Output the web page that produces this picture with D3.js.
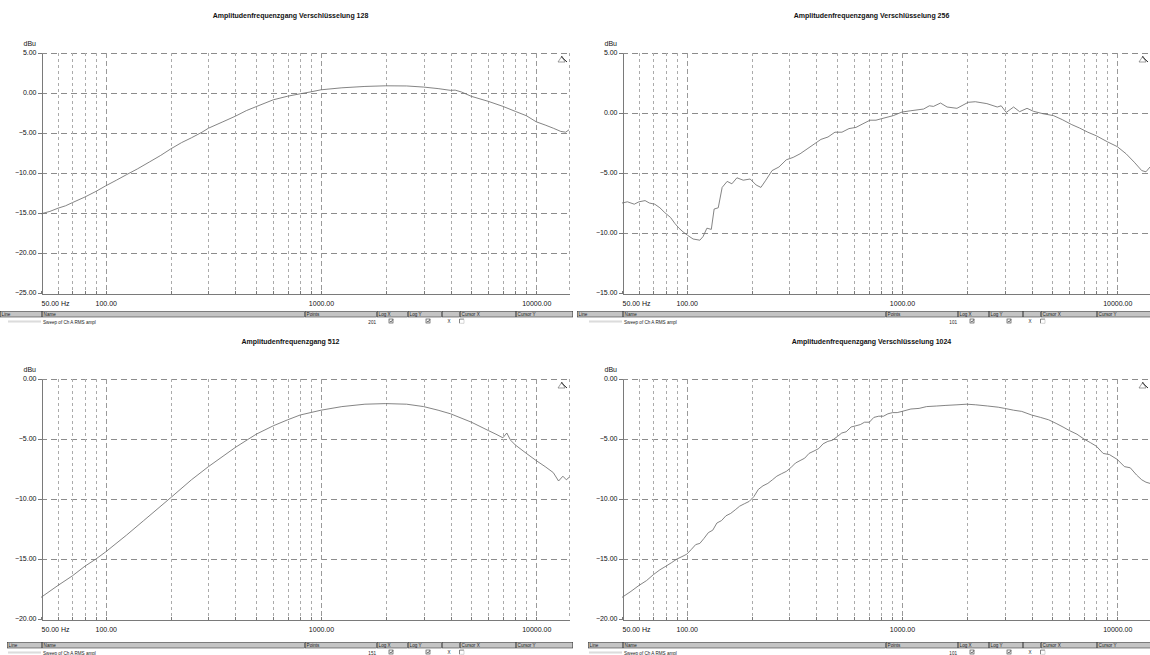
<!DOCTYPE html>
<meta charset="utf-8">
<style>
body { margin: 0; background: #fff; }
svg { display: block; font-family: "Liberation Sans", Arial, sans-serif; }
.grid-h { stroke: #8c8c8c; stroke-width: 1; stroke-dasharray: 6,4; shape-rendering: crispEdges; }
.grid-v { stroke: #ababab; stroke-width: 1; stroke-dasharray: 3,3; shape-rendering: crispEdges; }
.grid-dec { stroke: #9a9a9a; stroke-width: 1; stroke-dasharray: 5,3; shape-rendering: crispEdges; }
.axis path, .axis line { stroke: #7a7a7a; shape-rendering: crispEdges; }
.axis text { font-size: 7px; fill: #111; }
.curve { fill: none; stroke: #6e6e6e; stroke-width: 0.85px; }
.title { font-size: 7px; font-weight: bold; fill: #111; }
.hdr { fill: #c4c4c4; stroke: #3a3a3a; stroke-width: 0.6; }
.lg { font-size: 4.6px; fill: #222; }
</style>
<body>
<script src="https://d3js.org/d3.v7.min.js"></script>
<script>
// frequency [Hz], level [dBu]
var sweep128 = [[50,-15.1],[55,-14.8],[60,-14.4],[65,-14.1],[70,-13.7],[80,-13.0],[90,-12.3],[100,-11.6],
  [112,-10.9],[125,-10.2],[140,-9.5],[160,-8.6],[180,-7.8],[200,-7.0],[225,-6.2],[250,-5.6],[280,-4.9],
  [300,-4.4],[350,-3.6],[400,-2.9],[450,-2.2],[500,-1.7],[600,-0.85],[700,-0.4],[800,-0.1],[900,0.15],
  [1000,0.4],[1250,0.65],[1600,0.82],[2000,0.9],[2500,0.88],[3000,0.74],[3500,0.55],[4000,0.33],
  [4200,0.36],[4500,0.12],[5000,-0.42],[6000,-1.05],[7000,-1.67],[8000,-2.3],[9000,-2.84],[10000,-3.6],
  [11000,-4.0],[12000,-4.4],[13000,-4.8],[13700,-4.9],[14200,-4.6]];

var sweep256 = [[50,-7.5],[53,-7.4],[57,-7.6],[60,-7.4],[64,-7.3],[67,-7.5],[71,-7.6],[75,-7.9],[79,-8.3],
  [84,-8.7],[88,-9.2],[92,-9.6],[96,-9.9],[101,-10.2],[107,-10.5],[115,-10.6],[119,-10.3],[124,-9.6],
  [130,-9.7],[134,-8.0],[140,-7.9],[146,-6.2],[154,-5.7],[162,-5.9],[171,-5.4],[183,-5.6],[197,-5.5],
  [210,-6.0],[221,-6.2],[233,-5.6],[249,-4.8],[268,-4.5],[290,-3.9],[312,-3.7],[336,-3.4],[362,-3.0],
  [390,-2.6],[420,-2.2],[453,-2.0],[488,-1.6],[526,-1.6],[567,-1.3],[611,-1.2],[658,-0.9],[710,-0.6],
  [757,-0.6],[793,-0.5],[911,-0.22],[1000,0.08],[1100,0.19],[1260,0.33],[1340,0.6],[1400,0.55],
  [1510,0.83],[1620,0.5],[1800,0.39],[2030,0.89],[2190,0.94],[2480,0.78],[2770,0.5],[2890,0.6],
  [3050,0.05],[3300,0.5],[3520,0.11],[3810,0.39],[4080,0.14],[4520,-0.06],[5060,-0.22],[5550,-0.55],
  [6150,-0.97],[6680,-1.25],[7300,-1.6],[8000,-1.9],[9000,-2.4],[10000,-2.8],[11000,-3.4],[12000,-4.1],
  [13000,-4.8],[13600,-4.9],[14200,-4.5]];

var sweep512 = [[50,-18.2],[60,-17.2],[70,-16.4],[80,-15.6],[90,-15.0],[100,-14.4],[125,-13.0],[150,-11.8],
  [200,-9.9],[250,-8.4],[300,-7.3],[400,-5.7],[500,-4.6],[600,-3.9],[700,-3.4],[800,-3.0],[1000,-2.6],
  [1250,-2.3],[1600,-2.1],[2000,-2.05],[2500,-2.1],[3000,-2.3],[3500,-2.6],[4000,-2.9],[5000,-3.6],
  [6000,-4.3],[6500,-4.6],[7000,-4.9],[7300,-4.5],[7600,-5.1],[8000,-5.5],[9000,-6.2],[10000,-6.8],
  [11000,-7.3],[12000,-7.8],[12700,-8.5],[13300,-8.1],[13800,-8.4],[14200,-8.2]];

var sweep1024 = [[50,-18.2],[55,-17.7],[60,-17.2],[65,-16.8],[70,-16.3],[75,-15.9],[80,-15.6],[85,-15.3],
  [90,-15.0],[95,-14.8],[100,-14.6],[105,-14.2],[110,-13.8],[115,-13.7],[120,-13.3],[126,-12.8],
  [132,-12.6],[138,-12.0],[145,-11.8],[152,-11.4],[160,-11.2],[168,-10.9],[176,-10.6],[185,-10.4],
  [195,-10.2],[205,-9.8],[215,-9.2],[226,-8.9],[238,-8.7],[250,-8.4],[262,-8.1],[275,-7.9],[290,-7.7],
  [304,-7.4],[320,-7.0],[336,-6.8],[353,-6.6],[370,-6.2],[390,-6.0],[410,-5.8],[430,-5.4],[452,-5.2],
  [475,-5.1],[500,-4.8],[525,-4.5],[550,-4.4],[580,-4.0],[610,-3.9],[640,-3.8],[670,-3.6],[705,-3.6],
  [740,-3.2],[780,-3.1],[820,-3.1],[860,-2.9],[905,-2.8],[950,-2.8],[1000,-2.7],[1100,-2.5],[1200,-2.45],
  [1300,-2.3],[1450,-2.25],[1600,-2.2],[1800,-2.15],[2000,-2.1],[2200,-2.15],[2500,-2.25],[2800,-2.35],
  [3000,-2.45],[3300,-2.6],[3600,-2.7],[4000,-3.0],[4400,-3.2],[4800,-3.4],[5200,-3.7],[5600,-4.0],
  [6000,-4.3],[6500,-4.6],[7000,-5.0],[7500,-5.3],[8000,-5.6],[8600,-6.2],[9200,-6.3],[10000,-6.7],
  [10800,-7.3],[11500,-7.4],[12300,-8.0],[13000,-8.4],[13600,-8.6],[14200,-8.7]];

var yTicksA = [5, 0, -5, -10, -15, -20, -25];
var yTicksB = [5, 0, -5, -10, -15];
var yTicksC = [0, -5, -10, -15, -20];

var gridFreqs = [60,70,80,90,100,200,300,400,500,600,700,800,900,1000,2000,3000,4000,5000,6000,7000,8000,9000,10000];
var decades = [100, 1000, 10000];
var xTickValues = [50, 100, 1000, 10000];
var xTickText = ["50.00 Hz", "100.00", "1000.00", "10000.00"];

var legendCols = ["Line", "Name", "Points", "Log X", "Log Y", "", "Cursor X", "Cursor Y"];
var legendEdges = [42, 305, 377, 408, 442, 460, 516, 573];

var panels = [
  {x0: 0,   y0: 0,   title: "Amplitudenfrequenzgang Verschlüsselung 128",  dom: [-25, 5],  ticks: yTicksA, data: sweep128,  points: "201", lgStart: 0, lgY: 311.5},
  {x0: 581, y0: 0,   title: "Amplitudenfrequenzgang Verschlüsselung 256",  dom: [-15, 5],  ticks: yTicksB, data: sweep256,  points: "101", lgStart: -4, lgY: 311.5},
  {x0: 0,   y0: 326, title: "Amplitudenfrequenzgang 512",                  dom: [-20, 0],  ticks: yTicksC, data: sweep512,  points: "151", lgStart: 7, lgY: 642.5},
  {x0: 581, y0: 326, title: "Amplitudenfrequenzgang Verschlüsselung 1024", dom: [-20, 0],  ticks: yTicksC, data: sweep1024, points: "101", lgStart: 7, lgY: 642.5}
];

var svg = d3.select("body").append("svg")
    .attr("width", 1150)
    .attr("height", 655);

panels.forEach(function(p) {
  var left = p.x0 + 41, right = p.x0 + 569,
      top = p.y0 + 53, bottom = p.y0 + 293;

  var x = d3.scaleLog().domain([50, 14200]).range([left, right]);
  var y = d3.scaleLinear().domain(p.dom).range([bottom, top]);

  var g = svg.append("g");

  // title, centred over the whole panel
  g.append("text").attr("class", "title")
      .attr("x", p.x0 + 290.5).attr("y", p.y0 + 18.3)
      .attr("text-anchor", "middle")
      .text(p.title);

  // horizontal grid (skip the bottom axis line)
  g.selectAll(".grid-h").data(p.ticks.filter(function(t) { return t != p.dom[0]; }))
    .enter().append("line").attr("class", "grid-h")
      .attr("x1", left).attr("x2", right + 2)
      .attr("y1", function(d) { return Math.round(y(d)) + 0.5; })
      .attr("y2", function(d) { return Math.round(y(d)) + 0.5; });

  // vertical grid
  g.selectAll(".grid-v").data(gridFreqs.concat([14200]))
    .enter().append("line")
      .attr("class", function(d) { return decades.indexOf(d) >= 0 ? "grid-dec" : "grid-v"; })
      .attr("x1", function(d) { return Math.round(x(d)) + 0.5; })
      .attr("x2", function(d) { return Math.round(x(d)) + 0.5; })
      .attr("y1", top).attr("y2", bottom);

  // y axis
  var ya = g.append("g").attr("class", "axis")
      .attr("transform", "translate(" + (left + 0.5) + ",0)")
      .call(d3.axisLeft(y).tickValues(p.ticks).tickFormat(d3.format(".2f"))
              .tickSizeInner(4).tickSizeOuter(0).tickPadding(1));
  ya.selectAll("text").attr("dy", "0.25em");

  g.append("text").attr("class", "axis")
      .attr("x", p.x0 + 36).attr("y", p.y0 + 45.8)
      .attr("text-anchor", "end")
      .style("font-size", "7px").style("fill", "#111")
      .text("dBu");

  // x axis
  var xa = g.append("g").attr("class", "axis")
      .attr("transform", "translate(0," + (bottom + 0.5) + ")")
      .call(d3.axisBottom(x).tickValues([50].concat(gridFreqs))
              .tickFormat(function(d) {
                var i = xTickValues.indexOf(d);
                return i >= 0 ? xTickText[i] : "";
              })
              .tickSizeInner(-3).tickSizeOuter(0).tickPadding(8));
  xa.selectAll(".tick").filter(function(d) { return d == 50; })
      .select("text").attr("text-anchor", "start");

  // the sweep
  var line = d3.line()
      .x(function(d) { return x(d[0]); })
      .y(function(d) { return y(d[1]); });
  g.append("path").datum(p.data).attr("class", "curve").attr("d", line);

  // little zoom icon in the corner
  var ix = p.x0 + 558, iy = p.y0 + 56;
  g.append("path")
      .attr("d", "M" + ix + "," + (iy + 6) + "L" + (ix + 4) + "," + iy + "L" + (ix + 7) + "," + (iy + 6) + "Z")
      .attr("fill", "none").attr("stroke", "#777").attr("stroke-width", 0.7);
  g.append("line")
      .attr("x1", ix + 3).attr("y1", iy + 0.5).attr("x2", ix + 9).attr("y2", iy + 6)
      .attr("stroke", "#111").attr("stroke-width", 0.9);

  // legend table
  var lx = p.x0, ly = p.lgY;
  var edges = [p.lgStart].concat(legendEdges);
  legendCols.forEach(function(c, i) {
    var a = Math.max(lx + edges[i], 0), b = lx + edges[i + 1];
    g.append("rect").attr("class", "hdr")
        .attr("x", a + 0.3).attr("y", ly).attr("width", b - a - 0.6).attr("height", 5.5);
    g.append("text").attr("class", "lg")
        .attr("x", a + 1.6).attr("y", ly + 4.3).text(c);
  });
  g.append("line").attr("x1", lx + 8).attr("x2", lx + 41)
      .attr("y1", ly + 9.6).attr("y2", ly + 9.6)
      .attr("stroke", "#b0b0b0").attr("stroke-width", 0.6);
  g.append("line").attr("x1", lx + 8).attr("x2", lx + 41)
      .attr("y1", ly + 10.6).attr("y2", ly + 10.6)
      .attr("stroke", "#c8c8c8").attr("stroke-width", 0.6);
  g.append("text").attr("class", "lg")
      .attr("x", lx + 43).attr("y", ly + 12).text("Sweep of Ch A RMS ampl");
  g.append("text").attr("class", "lg")
      .attr("x", lx + 376).attr("y", ly + 12).attr("text-anchor", "end").text(p.points);
  [389, 426].forEach(function(bx) {
    g.append("rect").attr("x", lx + bx).attr("y", ly + 7.5).attr("width", 4).attr("height", 4)
        .attr("fill", "#fff").attr("stroke", "#333").attr("stroke-width", 0.6);
    g.append("path").attr("d", "M" + (lx + bx + 0.8) + "," + (ly + 9.3) + "l1.1,1.3l2,-2.6")
        .attr("fill", "none").attr("stroke", "#111").attr("stroke-width", 0.6);
  });
  g.append("text").attr("class", "lg")
      .attr("x", lx + 447.5).attr("y", ly + 11.6).text("X");
  g.append("path").attr("d", "M" + (lx + 459.5) + "," + (ly + 11.8) + "V" + (ly + 7.6) + "H" + (lx + 464))
      .attr("fill", "none").attr("stroke", "#333").attr("stroke-width", 0.6);
  g.append("path").attr("d", "M" + (lx + 460.2) + "," + (ly + 11.8) + "H" + (lx + 464) + "V" + (ly + 8))
      .attr("fill", "none").attr("stroke", "#aaa").attr("stroke-width", 0.5);
});
</script>
</body>
